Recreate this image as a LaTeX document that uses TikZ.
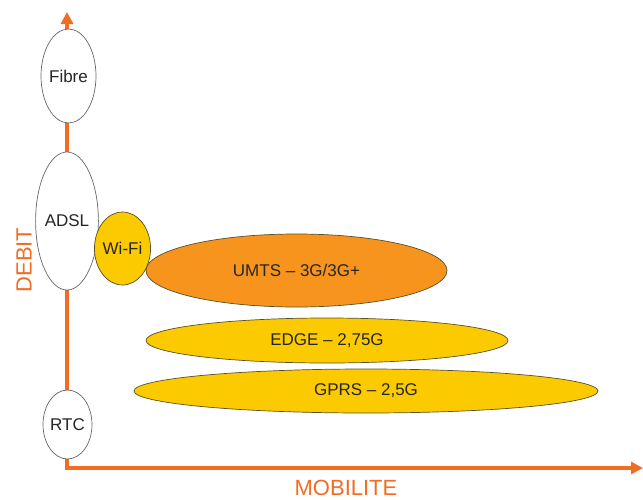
\documentclass[tikz,border=0pt]{standalone}
\usepackage{fontspec}
\setmainfont{Liberation Sans}
\usetikzlibrary{shapes.geometric,arrows.meta}
\definecolor{axisor}{RGB}{242,108,34}
\definecolor{umtsor}{RGB}{247,148,29}
\definecolor{yel}{RGB}{252,202,0}
\definecolor{edgecol}{RGB}{90,80,40}
\tikzset{
  axisline/.style={draw=axisor,line width=4pt,-{Triangle[length=12pt,width=12pt]}},
  blob/.style={ellipse,draw=edgecol,line width=0.7pt,inner sep=0pt,text=black!85,font=\fontsize{17}{19}\selectfont},
  whiteblob/.style={blob,fill=white,draw=black!60},
  axislabel/.style={text=axisor,font=\fontsize{22}{24}\selectfont,inner sep=0pt}
}
\begin{document}
\begin{tikzpicture}[x=1pt,y=-1pt]
\useasboundingbox (0,0) rectangle (643,499);
\coordinate (o) at (67,468);
\coordinate (ytop) at (67,12);
\coordinate (xend) at (643,468);
\draw[axisline] (o) -- (ytop);
\draw[axisline] ([xshift=-2pt]o) -- (xend);
\node[whiteblob,minimum width=55pt,minimum height=94pt] (fibre) at (68.5,76) {Fibre};
\node[whiteblob,minimum width=58pt,minimum height=138pt] (adsl) at (67,221) {ADSL};
\node[whiteblob,minimum width=39pt,minimum height=69pt] (rtc) at (67.5,424.5) {RTC};
\node[blob,fill=yel,minimum width=51pt,minimum height=73pt] (wifi) at (122.5,248.5) {Wi-Fi};
\node[blob,fill=umtsor,minimum width=301pt,minimum height=73pt] (umts) at (296.5,270.5) {UMTS – 3G/3G+};
\node[blob,fill=yel,minimum width=362pt,minimum height=45pt] (edge) at (327,340.5) {EDGE – 2,75G};
\node[blob,fill=yel,minimum width=464pt,minimum height=44pt] (gprs) at (366,391) {GPRS – 2,5G};
\node[axislabel,rotate=90] (debit) at (24,260) {DEBIT};
\node[axislabel] (mob) at (346,488) {MOBILITE};
\end{tikzpicture}
\end{document}
